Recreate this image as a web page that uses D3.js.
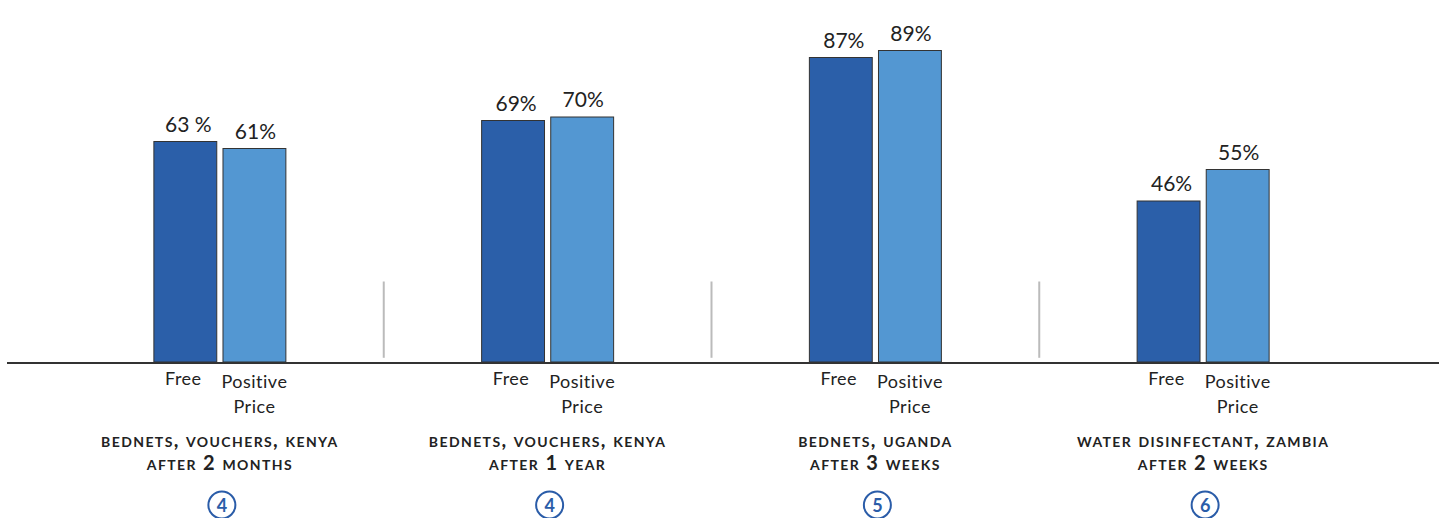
<!DOCTYPE html>
<meta charset="utf-8">
<style>
    body { margin: 0; background: #fff; }
    text { font-family: Lato, "Open Sans", sans-serif; fill: #222; }
    .value { font-size: 21px; }
    .cat { font-size: 18px; letter-spacing: 0.5px; }
    .sub { font-size: 20px; font-weight: bold; font-variant: small-caps; letter-spacing: 1.4px; }
    .ref text { fill: #2a5ca8; font-size: 18px; font-weight: bold; }
    .ref circle { fill: none; stroke: #2a5ca8; stroke-width: 2px; }
    .bar { stroke: #333; stroke-width: 1px; }
    .sep { stroke: #bbb; stroke-width: 2px; }
    .baseline { stroke: #333; stroke-width: 2px; }
</style>
<body>
<svg width="1439" height="518"></svg>
</body>
<script src="https://cdn.jsdelivr.net/npm/d3@7"></script>
<script>

    // data
    var groups = ["g1", "g2", "g3", "g4"];
    var series = ["Free", "Positive Price"];
    var freeValues = [63, 69, 87, 46];
    var priceValues = [61, 70, 89, 55];
    var freeLabels = ["63 %", "69%", "87%", "46%"];
    var priceLabels = ["61%", "70%", "89%", "55%"];
    var subLine1 = ["bednets, vouchers, kenya", "bednets, vouchers, kenya", "bednets, uganda", "water disinfectant, zambia"];
    var subLine2 = ["after 2 months", "after 1 year", "after 3 weeks", "after 2 weeks"];
    var refs = ["4", "4", "5", "6"];
    var colors = ["#2b5fa9", "#5397d2"];

    var svg = d3.select("svg"),
            width = +svg.attr("width"),
            height = +svg.attr("height");

    // scales
    var x0 = d3.scaleBand()
            .domain(groups)
            .range([56, 1367]);

    var x1 = d3.scaleBand()
            .domain(series)
            .range([-66, 66])
            .paddingInner(0.09);

    var y = d3.scaleLinear()
            .domain([0, 100])
            .range([362, 12]);

    var rows = groups.map(function (g, i) {
        return {
            group: g,
            bars: [
                {key: series[0], value: freeValues[i], label: freeLabels[i]},
                {key: series[1], value: priceValues[i], label: priceLabels[i]}
            ],
            line1: subLine1[i],
            line2: subLine2[i],
            ref: refs[i]
        };
    });

    // separators between groups
    svg.selectAll(".sep")
            .data(groups.slice(1))
            .enter().append("line")
            .attr("class", "sep")
            .attr("x1", function (d) { return x0(d); })
            .attr("x2", function (d) { return x0(d); })
            .attr("y1", y(23))
            .attr("y2", y(1.2));

    var groupG = svg.selectAll(".group")
            .data(rows)
            .enter().append("g")
            .attr("class", "group")
            .attr("transform", function (d) { return "translate(" + (x0(d.group) + x0.bandwidth() / 2) + ",0)"; });

    // bars
    groupG.selectAll(".bar")
            .data(function (d) { return d.bars; })
            .enter().append("rect")
            .attr("class", "bar")
            .attr("x", function (d) { return x1(d.key); })
            .attr("width", x1.bandwidth())
            .attr("y", function (d) { return y(d.value); })
            .attr("height", function (d) { return y(0) - y(d.value); })
            .style("fill", function (d, i) { return colors[i]; });

    // value labels
    groupG.selectAll(".value")
            .data(function (d) { return d.bars; })
            .enter().append("text")
            .attr("class", "value")
            .attr("x", function (d, i) { return x1(d.key) + x1.bandwidth() / 2 + (i ? 1 : 3); })
            .attr("y", function (d) { return y(d.value) - 10; })
            .style("text-anchor", "middle")
            .text(function (d) { return d.label; });

    // category labels under each bar
    groupG.append("text")
            .attr("class", "cat")
            .attr("x", x1(series[0]) + x1.bandwidth() / 2 - 2)
            .attr("y", 385)
            .style("text-anchor", "middle")
            .text("Free");

    var priceText = groupG.append("text")
            .attr("class", "cat")
            .style("text-anchor", "middle");
    priceText.append("tspan")
            .attr("x", x1(series[1]) + x1.bandwidth() / 2)
            .attr("y", 388)
            .text("Positive");
    priceText.append("tspan")
            .attr("x", x1(series[1]) + x1.bandwidth() / 2)
            .attr("y", 413)
            .text("Price");

    // study description
    groupG.append("text")
            .attr("class", "sub")
            .attr("y", 447)
            .style("text-anchor", "middle")
            .text(function (d) { return d.line1; });
    groupG.append("text")
            .attr("class", "sub")
            .attr("y", 470)
            .style("text-anchor", "middle")
            .text(function (d) { return d.line2; });

    // circled reference number
    var refG = groupG.append("g")
            .attr("class", "ref")
            .attr("transform", "translate(2,505)");
    refG.append("circle").attr("r", 13.5);
    refG.append("text")
            .attr("dy", 6.5)
            .style("text-anchor", "middle")
            .text(function (d) { return d.ref; });

    // baseline
    svg.append("line")
            .attr("class", "baseline")
            .attr("x1", 7)
            .attr("x2", width)
            .attr("y1", y(0) + 1)
            .attr("y2", y(0) + 1);

</script>
